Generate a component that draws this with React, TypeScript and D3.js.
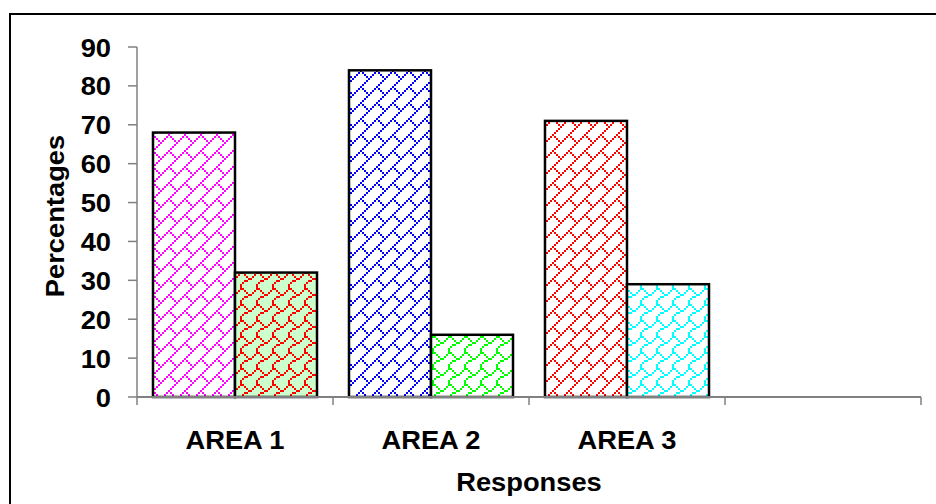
import React from 'react';
import * as d3 from 'd3';

// values
const categories = ['AREA 1', 'AREA 2', 'AREA 3', ''];
const seriesKeys = ['first', 'second'];
const firstValues = [68, 84, 71];
const secondValues = [32, 16, 29];
const yTicks = [0, 10, 20, 30, 40, 50, 60, 70, 80, 90];

// 8x8 hatch bitmaps (Excel-style fills)
const brickBits = [
  '00000001',
  '00000010',
  '00000100',
  '00001000',
  '00010100',
  '00100010',
  '01000001',
  '10000000',
];
const shingleBits = [
  '11000000',
  '00100001',
  '00010010',
  '00001100',
  '00110000',
  '01000000',
  '10000000',
  '10000000',
];

// one fill per bar: [category][series]
const fills = [
  [
    { bits: brickBits, fg: '#ff00ff', bg: '#ffffff' },
    { bits: shingleBits, fg: '#ff0000', bg: '#ccffcc' },
  ],
  [
    { bits: brickBits, fg: '#0000ff', bg: '#ffffff' },
    { bits: shingleBits, fg: '#00ff00', bg: '#ffffff' },
  ],
  [
    { bits: brickBits, fg: '#ff0000', bg: '#ffffff' },
    { bits: shingleBits, fg: '#00ffff', bg: '#ffffff' },
  ],
];

const W = 936;
const H = 504;
const margin = { top: 47, left: 137, right: 15, bottom: 107 };
const PX = 2; // size of one bitmap pixel
const FONT = "'Liberation Sans', Arial, sans-serif";
const STRETCH = 1.05;

const Hatch: React.FC<{ id: string; bits: string[]; fg: string; bg: string }> = ({ id, bits, fg, bg }) => (
  <pattern id={id} patternUnits="userSpaceOnUse" width={8 * PX} height={8 * PX}>
    <rect width={8 * PX} height={8 * PX} fill={bg} />
    {bits.map((row, r) =>
      row.split('').map((b, c) =>
        b === '1' ? (
          <rect key={`${r}-${c}`} x={c * PX} y={r * PX} width={PX} height={PX} fill={fg} shapeRendering="crispEdges" />
        ) : null
      )
    )}
  </pattern>
);

export default function App() {
  const x = d3
    .scaleBand<string>()
    .domain(categories.map((c, i) => String(i)))
    .range([margin.left, W - margin.right])
    .paddingInner(0)
    .paddingOuter(0);

  const xs = d3
    .scaleBand<string>()
    .domain(seriesKeys)
    .range([0, x.bandwidth()])
    .paddingInner(0)
    .paddingOuter(0.195);

  const y = d3
    .scaleLinear()
    .domain([0, 90])
    .range([H - margin.bottom, margin.top]);

  const y0 = y(0);
  const boundaries = categories.map((c, i) => x(String(i)) as number).concat([W - margin.right]);

  const textStyle: React.CSSProperties = { fontFamily: FONT, fontWeight: 'bold', fontSize: 26 };

  return (
    <div style={{ position: 'absolute', left: 0, top: 0 }}>
      <svg width={W} height={H} style={{ display: 'block', background: '#fff' }}>
        <defs>
          {fills.map((grp, gi) =>
            grp.map((f, si) => <Hatch key={`${gi}-${si}`} id={`fill-${gi}-${si}`} {...f} />)
          )}
        </defs>

        {/* outer frame */}
        <rect x={10} y={14} width={1000} height={600} fill="none" stroke="#000" strokeWidth={2} />

        {/* y axis */}
        <line x1={margin.left} x2={margin.left} y1={y(90)} y2={y0} stroke="#808080" strokeWidth={1.5} />
        {yTicks.map(t => (
          <g key={t}>
            <line x1={margin.left - 9} x2={margin.left} y1={y(t)} y2={y(t)} stroke="#808080" strokeWidth={1.5} />
            <text
              transform={`translate(111, ${y(t) + 9.5}) scale(${STRETCH},1)`}
              textAnchor="end"
              style={textStyle}
            >
              {t}
            </text>
          </g>
        ))}

        {/* bars */}
        {firstValues.map((v, i) => {
          const vals = [v, secondValues[i]];
          const bx = x(String(i)) as number;
          return (
            <g key={i}>
              {vals.map((val, si) => (
                <rect
                  key={si}
                  x={bx + (xs(seriesKeys[si]) as number)}
                  y={y(val)}
                  width={xs.bandwidth()}
                  height={y0 - y(val)}
                  fill={`url(#fill-${i}-${si})`}
                  stroke="#000"
                  strokeWidth={2.5}
                />
              ))}
            </g>
          );
        })}

        {/* x axis */}
        <line x1={margin.left} x2={W - margin.right} y1={y0} y2={y0} stroke="#808080" strokeWidth={2} />
        {boundaries.map((bx, i) => (
          <line key={i} x1={bx} x2={bx} y1={y0} y2={y0 + 8} stroke="#808080" strokeWidth={1.5} />
        ))}
        {categories.map((c, i) =>
          c ? (
            <text
              key={c}
              transform={`translate(${(x(String(i)) as number) + x.bandwidth() / 2}, 449) scale(${STRETCH},1)`}
              textAnchor="middle"
              style={textStyle}
            >
              {c}
            </text>
          ) : null
        )}

        {/* axis titles */}
        <text transform={`translate(529, 491) scale(${STRETCH},1)`} textAnchor="middle" style={textStyle}>
          Responses
        </text>
        <text
          transform={`translate(64, 216) rotate(-90) scale(${STRETCH},1)`}
          textAnchor="middle"
          style={textStyle}
        >
          Percentages
        </text>
      </svg>
    </div>
  );
}
